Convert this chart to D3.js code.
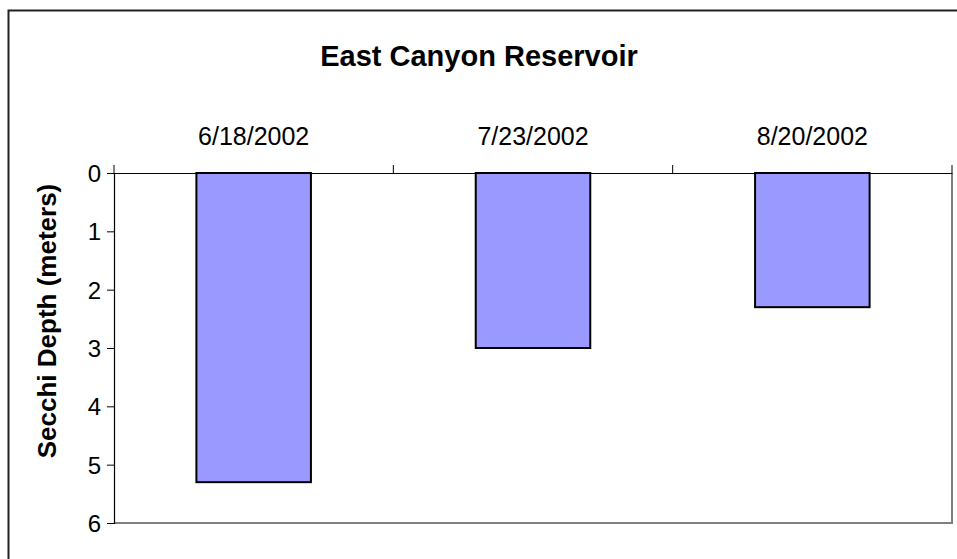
<!DOCTYPE html>
<html>
<head>
<meta charset="utf-8">
<script src="https://cdn.jsdelivr.net/npm/d3@7"></script>
<style>
  html, body { margin: 0; padding: 0; background: #fff; }
  svg { display: block; font-family: "Liberation Sans", Arial, sans-serif; }
</style>
</head>
<body>
<svg id="chart" width="957" height="559"></svg>
<script>
const title = "East Canyon Reservoir";
const yTitle = "Secchi Depth (meters)";
const categories = ["6/18/2002", "7/23/2002", "8/20/2002"];
const depths = [5.3, 3.0, 2.3];
const yTicks = [0, 1, 2, 3, 4, 5, 6];

const svg = d3.select("#chart");
const plot = { left: 114, right: 952, top: 173, bottom: 523 };

// outer chart border
svg.append("rect")
  .attr("x", 8.5).attr("y", 10.5)
  .attr("width", 960).attr("height", 560)
  .attr("fill", "#fff").attr("stroke", "#222").attr("stroke-width", 2);

const x = d3.scaleBand().domain(categories).range([plot.left, plot.right]).paddingInner(0).paddingOuter(0);
const y = d3.scaleLinear().domain([0, 6]).range([plot.top, plot.bottom]);

// plot area right and bottom edges (gray)
svg.append("path")
  .attr("d", `M${plot.left},${plot.bottom}H${plot.right}V${plot.top}`)
  .attr("fill", "none").attr("stroke", "#808080").attr("stroke-width", 2);

// bars
const barW = x.bandwidth() * 0.41;
svg.append("g").selectAll("rect")
  .data(categories.map((c, i) => ({ c, v: depths[i] })))
  .join("rect")
  .attr("x", d => x(d.c) + (x.bandwidth() - barW) / 2)
  .attr("y", y(0))
  .attr("width", barW)
  .attr("height", d => y(d.v) - y(0))
  .attr("fill", "#9999ff")
  .attr("stroke", "#000")
  .attr("stroke-width", 2);

// y axis
const yAxis = svg.append("g")
  .attr("transform", `translate(${plot.left},0)`)
  .call(d3.axisLeft(y).tickValues(yTicks).tickFormat(d3.format("d")).tickSize(7).tickPadding(6));
yAxis.select(".domain").attr("stroke", "#000").attr("stroke-width", 1.2);
yAxis.selectAll(".tick line").attr("stroke", "#000");
yAxis.selectAll("text").attr("font-size", 24).attr("fill", "#000").attr("dy", "0.36em");

// x axis at top (category boundaries as ticks)
const xAxis = svg.append("g")
  .attr("transform", `translate(0,${plot.top})`)
  .call(d3.axisTop(x).tickSize(0).tickPadding(28));
xAxis.select(".domain").attr("stroke", "#000").attr("stroke-width", 1.2);
xAxis.selectAll("text").attr("font-size", 25).attr("fill", "#000");
const bounds = categories.map(c => x(c)).concat([x(categories[categories.length - 1]) + x.bandwidth()]);
xAxis.selectAll(".btick").data(bounds).join("line")
  .attr("class", "btick")
  .attr("x1", d => d).attr("x2", d => d)
  .attr("y1", 0).attr("y2", -8)
  .attr("stroke", "#000").attr("stroke-width", 1);

// titles
svg.append("text")
  .attr("x", 479).attr("y", 66)
  .attr("text-anchor", "middle")
  .attr("font-size", 29).attr("font-weight", "bold")
  .text(title);

svg.append("text")
  .attr("transform", `translate(56,321) rotate(-90)`)
  .attr("text-anchor", "middle")
  .attr("font-size", 26).attr("font-weight", "bold")
  .text(yTitle);
</script>
</body>
</html>
